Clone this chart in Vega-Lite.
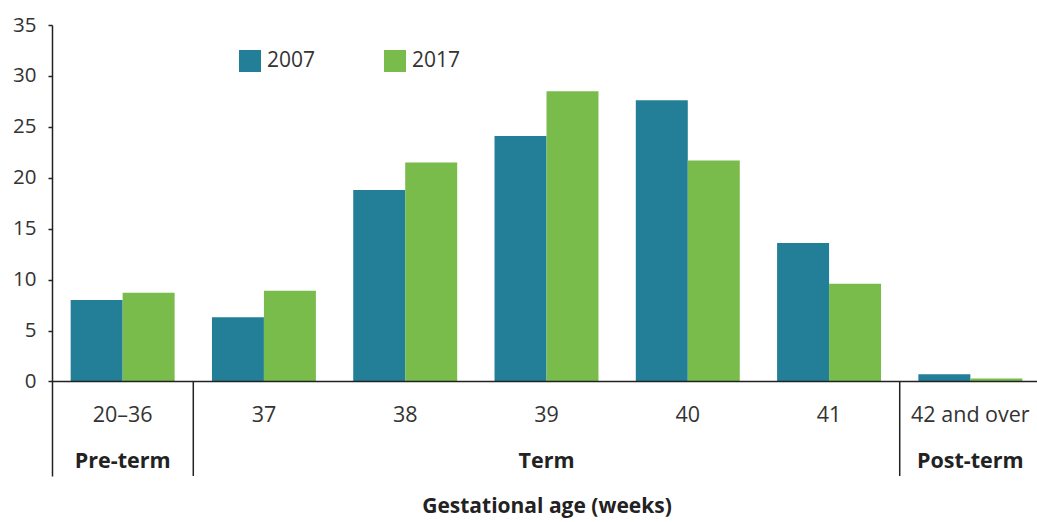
{
  "$schema": "https://vega.github.io/schema/vega-lite/v6.json",
  "width": 989,
  "height": 451,
  "autosize": "none",
  "padding": {"left": 52, "top": 25, "right": 0, "bottom": 46},
  "background": "white",
  "config": {
    "font": "Open Sans",
    "view": {"stroke": null},
    "axis": {"labelFont": "Open Sans", "titleFont": "Open Sans"},
    "text": {"font": "Open Sans"}
  },
  "datasets": {
    "bars": [
      {"cat": "20–36", "year": "2007", "value": 8.0},
      {"cat": "20–36", "year": "2017", "value": 8.7},
      {"cat": "37", "year": "2007", "value": 6.3},
      {"cat": "37", "year": "2017", "value": 8.9},
      {"cat": "38", "year": "2007", "value": 18.8},
      {"cat": "38", "year": "2017", "value": 21.5},
      {"cat": "39", "year": "2007", "value": 24.1},
      {"cat": "39", "year": "2017", "value": 28.5},
      {"cat": "40", "year": "2007", "value": 27.6},
      {"cat": "40", "year": "2017", "value": 21.7},
      {"cat": "41", "year": "2007", "value": 13.6},
      {"cat": "41", "year": "2017", "value": 9.6},
      {"cat": "42 and over", "year": "2007", "value": 0.7},
      {"cat": "42 and over", "year": "2017", "value": 0.3}
    ],
    "cats": [
      {"cat": "20–36"}, {"cat": "37"}, {"cat": "38"}, {"cat": "39"},
      {"cat": "40"}, {"cat": "41"}, {"cat": "42 and over"}
    ],
    "groups": [
      {"cat": "20–36", "group": "Pre-term"},
      {"cat": "39", "group": "Term"},
      {"cat": "42 and over", "group": "Post-term"}
    ],
    "seps": [
      {"cat": "37"},
      {"cat": "42 and over"}
    ],
    "base": [{"v": 0}]
  },
  "encoding": {
    "x": {
      "field": "cat",
      "type": "nominal",
      "sort": null,
      "scale": {
        "domain": ["20–36", "37", "38", "39", "40", "41", "42 and over"],
        "paddingInner": 0,
        "paddingOuter": 0
      },
      "axis": {
        "orient": "bottom",
        "labels": false,
        "ticks": false,
        "domain": false,
        "title": "Gestational age (weeks)",
        "titleFontSize": 21,
        "titleFontWeight": "bold",
        "titleColor": "#222222",
        "titlePadding": 19
      }
    }
  },
  "layer": [
    {
      "data": {"name": "bars"},
      "mark": {"type": "bar", "strokeWidth": 0},
      "encoding": {
        "xOffset": {
          "field": "year",
          "type": "nominal",
          "scale": {"paddingInner": 0, "paddingOuter": 0.359}
        },
        "y": {
          "field": "value",
          "type": "quantitative",
          "scale": {"domain": [-9.28, 35], "nice": false, "zero": false},
          "axis": {
            "values": [0, 5, 10, 15, 20, 25, 30, 35],
            "grid": false,
            "title": null,
            "labelFontSize": 20.5,
            "labelColor": "#333333",
            "labelPadding": 12,
            "tickSize": 4,
            "tickColor": "#222222",
            "domainColor": "#222222",
            "domainWidth": 1.5,
            "tickWidth": 1.5
          }
        },
        "color": {
          "field": "year",
          "type": "nominal",
          "scale": {"domain": ["2007", "2017"], "range": ["#237F97", "#7ABC4B"]},
          "legend": {
            "orient": "none",
            "legendX": 187,
            "legendY": 25,
            "direction": "horizontal",
            "title": null,
            "padding": 0,
            "symbolType": "square",
            "symbolSize": 484,
            "symbolStrokeWidth": 0,
            "labelFontSize": 21,
            "labelColor": "#333333",
            "labelOffset": 6,
            "columnPadding": 68
          }
        }
      }
    },
    {
      "data": {"name": "base"},
      "mark": {"type": "rule", "color": "#222222", "strokeWidth": 1.5},
      "encoding": {
        "x": null,
        "y": {"field": "v", "type": "quantitative"}
      }
    },
    {
      "data": {"name": "seps"},
      "mark": {"type": "rule", "color": "#222222", "strokeWidth": 1.5},
      "encoding": {
        "x": {"field": "cat", "type": "nominal", "bandPosition": 0},
        "y": {"datum": 0},
        "y2": {"datum": -9.28}
      }
    },
    {
      "data": {"name": "cats"},
      "mark": {"type": "text", "fontSize": 21.5, "color": "#333333", "baseline": "middle"},
      "encoding": {
        "text": {"field": "cat"},
        "y": {"datum": -3.4}
      }
    },
    {
      "data": {"name": "groups"},
      "mark": {"type": "text", "fontSize": 21.5, "fontWeight": "bold", "color": "#222222", "baseline": "middle"},
      "encoding": {
        "text": {"field": "group"},
        "y": {"datum": -7.9}
      }
    }
  ]
}
